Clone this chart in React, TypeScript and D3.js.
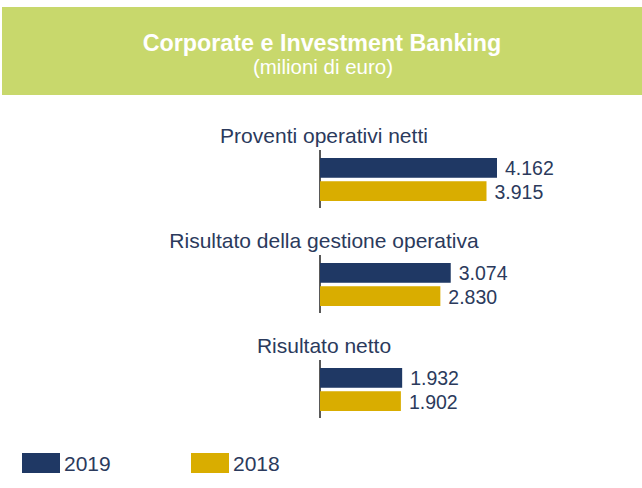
import React from "react";
import * as d3 from "d3";

const categories = [
  "Proventi operativi netti",
  "Risultato della gestione operativa",
  "Risultato netto",
];
const series = ["2019", "2018"];
const values2019 = [4162, 3074, 1932];
const values2018 = [3915, 2830, 1902];
const valueLabels2019 = ["4.162", "3.074", "1.932"];
const valueLabels2018 = ["3.915", "2.830", "1.902"];

const W = 642;
const H = 488;
const colors: Record<string, string> = { "2019": "#1f3864", "2018": "#d9ad00" };
const textColor = "#2b3a5c";

const App = () => {
  const x = d3.scaleLinear().domain([0, 4162]).range([320, 497]);
  const yGroup = d3.scalePoint<string>().domain(categories).range([158, 368]);
  const ySeries = d3.scaleBand<string>().domain(series).range([0, 43]).paddingInner(0.15);
  const legendX = d3.scalePoint<string>().domain(series).range([22, 191]);
  const data = [values2019, values2018];
  const labels = [valueLabels2019, valueLabels2018];
  const font = "'Liberation Sans', Arial, sans-serif";

  return (
    <svg width={W} height={H} style={{ position: "absolute", left: 0, top: 0 }} fontFamily={font}>
      <rect x={0} y={0} width={W} height={H} fill="#ffffff" />
      <rect x={2} y={7} width={W - 2} height={88} fill="#c8d86c" />
      <text x={322} y={51} textAnchor="middle" fill="#ffffff" fontSize={23.3} fontWeight="bold">
        Corporate e Investment Banking
      </text>
      <text x={323} y={74} textAnchor="middle" fill="#ffffff" fontSize={20.5}>
        (milioni di euro)
      </text>

      {categories.map((c, i) => {
        const y0 = yGroup(c)!;
        return (
          <g key={c}>
            <text x={324} y={y0 - 15} textAnchor="middle" fill={textColor} fontSize={21}>
              {c}
            </text>
            <line x1={x(0)} x2={x(0)} y1={y0 - 8} y2={y0 + 50} stroke="#222" strokeWidth={1.5} />
            {series.map((s, j) => {
              const v = data[j][i];
              const yy = y0 + ySeries(s)!;
              return (
                <g key={s}>
                  <rect x={x(0)} y={yy} width={x(v) - x(0)} height={ySeries.bandwidth()} fill={colors[s]} />
                  <text
                    x={x(v) + 8}
                    y={yy + ySeries.bandwidth() / 2}
                    dy="0.38em"
                    fill={textColor}
                    fontSize={19.5}
                  >
                    {labels[j][i]}
                  </text>
                </g>
              );
            })}
          </g>
        );
      })}

      {series.map((s) => {
        const lx = legendX(s)!;
        return (
          <g key={s}>
            <rect x={lx} y={453} width={38} height={20} fill={colors[s]} />
            <text x={lx + 42} y={471} fill={textColor} fontSize={21}>
              {s}
            </text>
          </g>
        );
      })}
    </svg>
  );
};

export default App;
